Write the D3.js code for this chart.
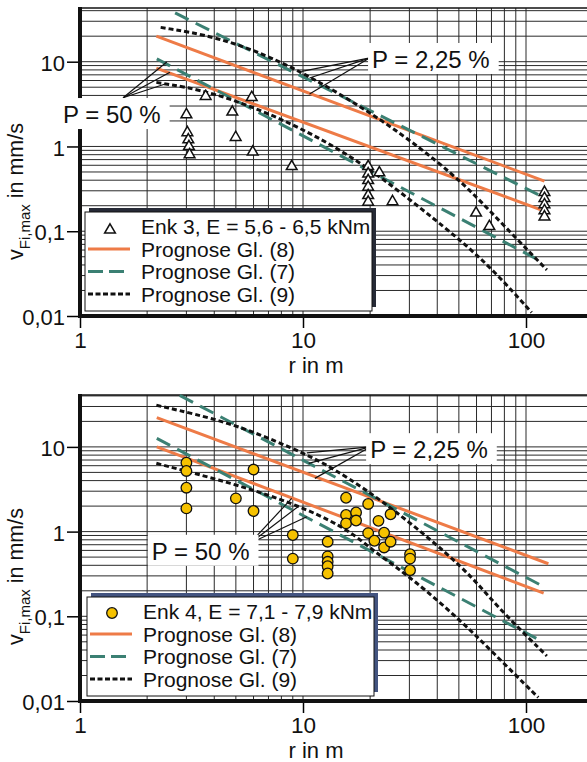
<!DOCTYPE html>
<html>
<head>
<meta charset="utf-8">
<script src="https://cdn.jsdelivr.net/npm/d3@7"></script>
<style>
body { margin: 0; background: #fff; }
svg { display: block; font-family: "Liberation Sans", Arial, sans-serif; }
</style>
</head>
<body>
<svg id="chart" width="587" height="762"></svg>
<script>
// axis ticks
const xTickValues = [1, 10, 100];
const xTickLabels = ["1", "10", "100"];
const yTickValues = [0.01, 0.1, 1, 10];
const yTickLabels = ["0,01", "0,1", "1", "10"];

// Enk 3 measurements (r in m, v in mm/s)
const enk3R = [3, 3.03, 3.06, 3.08, 3.1, 3.66, 4.82, 4.99, 5.89, 5.95, 8.9,
               19.6, 19.6, 19.6, 19.6, 19.6, 19.6, 22, 25.2, 59.7, 68.5,
               121, 121, 121, 121, 121];
const enk3V = [2.37, 1.46, 1.2, 1.0, 0.8, 3.9, 2.55, 1.28, 3.79, 0.86, 0.58,
               0.58, 0.476, 0.397, 0.332, 0.264, 0.221, 0.49, 0.224, 0.164, 0.114,
               0.288, 0.244, 0.206, 0.175, 0.148];

// Enk 4 measurements
const enk4R = [3, 3, 3, 3, 5, 6, 6, 9, 9,
               12.9, 12.9, 12.9, 12.9, 12.9, 15.6, 15.6, 15.6, 17.3, 17.3,
               19.6, 19.6, 20.9, 21.8, 23.1, 23.1, 24.7, 24.7, 30.2, 30.2, 30.2];
const enk4V = [6.5, 5.2, 3.3, 1.88, 2.47, 5.4, 1.75, 0.91, 0.48,
               0.76, 0.51, 0.44, 0.39, 0.32, 2.51, 1.57, 1.25, 1.68, 1.35,
               2.12, 0.96, 0.78, 1.34, 0.97, 0.65, 0.76, 1.6, 0.54, 0.48, 0.35];

// Prognose curves [r, v], upper (P = 2,25 %) and lower (P = 50 %)
const gl8Top = [[[2.2, 20], [121, 0.39]], [[2.2, 8.4], [116, 0.18]]];
const gl7Top = [[[2.67, 37.6], [113.5, 0.27]], [[2.21, 10.8], [113.5, 0.046]]];
const gl9Top = [
  [[2.3, 25.4], [4.1, 19.9], [8.5, 9.8], [23.7, 1.97], [48.9, 0.44], [66.6, 0.19], [124, 0.035]],
  [[2.2, 5.7], [3.96, 4.46], [9.05, 1.89], [18.6, 0.64], [35.9, 0.164], [50.6, 0.079], [71.3, 0.035], [106, 0.011]]
];
const gl8Bottom = [[[2.21, 22.2], [126, 0.417]], [[2.21, 10], [120, 0.188]]];
const gl7Bottom = [[[2.8, 40.6], [115.5, 0.236]], [[2.21, 12.6], [115.5, 0.052]]];
const gl9Bottom = [
  [[2.2, 31], [4.7, 19.7], [9.05, 9.6], [13.7, 5.7], [25.4, 1.88], [54.2, 0.355], [71.3, 0.144], [124, 0.034]],
  [[2.2, 6.4], [4.87, 3.7], [9.05, 2.16], [15.2, 1.15], [19.6, 0.67], [22.9, 0.49], [31.3, 0.27], [50.6, 0.091], [71.3, 0.037], [113.5, 0.011]]
];

const legendTop = ["Enk 3, E = 5,6 - 6,5 kNm", "Prognose Gl. (8)", "Prognose Gl. (7)", "Prognose Gl. (9)"];
const legendBottom = ["Enk 4, E = 7,1 - 7,9 kNm", "Prognose Gl. (8)", "Prognose Gl. (7)", "Prognose Gl. (9)"];

// P labels with leader lines, in data units
const notesTop = [
  {text: "P = 50 %", textAt: [0.839, 1.89], from: [1.56, 3.76], to: [[2.45, 9.9], [2.53, 7.5], [2.41, 5.45]]},
  {text: "P = 2,25 %", textAt: [20.4, 8.43], from: [19.97, 11.1], to: [[9.87, 7.68], [10.7, 6.42], [10.7, 4.16]]}
];
const notesBottom = [
  {text: "P = 50 %", textAt: [2.1, 0.465], from: [5.79, 0.73], to: [[8.9, 2.47], [9.5, 1.97], [10.4, 1.5]]},
  {text: "P = 2,25 %", textAt: [20, 7.36], from: [20, 10], to: [[10.4, 8.5], [10.6, 6.4], [11.3, 4.25]]}
];

const ORANGE = "#ee7b47";
const GREEN = "#3b8073";
const W = 587;
const LEFT = 80;

const svg = d3.select("#chart");
const x = d3.scaleLog().domain([1, 100]).range([LEFT, 526]);

function drawPanel(p) {
  let g = svg.append("g");
  let y = d3.scaleLog().domain([0.01, p.yMax]).range([p.bottom, p.top]);

  // grid
  let vGrid = [];
  for (let k = 0; k < 2; k++) for (let m = 1; m <= 9; m++) vGrid.push(m * Math.pow(10, k));
  vGrid.push(100);
  let hGrid = [];
  for (let k = -2; k <= 1; k++) for (let m = 1; m <= 9; m++) {
    let v = m * Math.pow(10, k);
    if (v < p.yMax) hGrid.push(v);
  }
  g.selectAll(".vg").data(vGrid.slice(1)).join("line")
    .attr("x1", d => x(d)).attr("x2", d => x(d))
    .attr("y1", p.top).attr("y2", p.bottom)
    .attr("stroke", "#2a2a2a").attr("stroke-width", 1);
  g.selectAll(".hg").data(hGrid).join("line")
    .attr("x1", LEFT).attr("x2", W)
    .attr("y1", d => y(d)).attr("y2", d => y(d))
    .attr("stroke", "#2a2a2a").attr("stroke-width", 1);
  g.append("line").attr("x1", LEFT).attr("x2", W).attr("y1", p.top).attr("y2", p.top)
    .attr("stroke", "#111").attr("stroke-width", 1.6);

  // curves
  let line = d3.line().x(d => x(d[0])).y(d => y(d[1])).curve(d3.curveBasis);
  g.selectAll(".c8").data(p.gl8).join("path").attr("d", line)
    .attr("fill", "none").attr("stroke", ORANGE).attr("stroke-width", 3);
  g.selectAll(".c7").data(p.gl7).join("path").attr("d", line)
    .attr("fill", "none").attr("stroke", GREEN).attr("stroke-width", 3).attr("stroke-dasharray", "15,8");
  g.selectAll(".c9").data(p.gl9).join("path").attr("d", line)
    .attr("fill", "none").attr("stroke", "#111").attr("stroke-width", 3).attr("stroke-dasharray", "5,3");

  // measurements
  let pts = p.r.map((r, i) => [r, p.v[i]]);
  if (p.marker === "triangle") {
    g.selectAll(".m").data(pts).join("path")
      .attr("transform", d => "translate(" + x(d[0]) + "," + y(d[1]) + ")")
      .attr("d", d3.symbol(d3.symbolTriangle, 50))
      .attr("fill", "#fff").attr("stroke", "#111").attr("stroke-width", 1.5);
  } else {
    g.selectAll(".m").data(pts).join("circle")
      .attr("cx", d => x(d[0])).attr("cy", d => y(d[1])).attr("r", 5.3)
      .attr("fill", "#f6c200").attr("stroke", "#111").attr("stroke-width", 1.3);
  }

  // axes
  let ya = g.append("g").attr("transform", "translate(" + LEFT + ",0)")
    .call(d3.axisLeft(y).tickValues(yTickValues).tickFormat((d, i) => yTickLabels[i]).tickSize(13).tickPadding(2));
  ya.select(".domain").remove();
  ya.selectAll("text").attr("font-size", 22).attr("font-family", "Liberation Sans").attr("dy", "0.39em").attr("fill", "#111");
  ya.selectAll("line").attr("stroke-width", 1.5);
  let xa = g.append("g").attr("transform", "translate(0," + p.bottom + ")")
    .call(d3.axisBottom(x).tickValues(xTickValues).tickFormat((d, i) => xTickLabels[i]).tickSize(12).tickPadding(4));
  xa.select(".domain").remove();
  xa.selectAll("text").attr("font-size", 22.5).attr("font-family", "Liberation Sans").attr("dy", "0.71em").attr("y", 16).attr("fill", "#111");
  xa.selectAll("line").attr("stroke-width", 1.5);
  g.append("line").attr("x1", LEFT).attr("x2", LEFT).attr("y1", p.top - 1).attr("y2", p.bottom + 2)
    .attr("stroke", "#111").attr("stroke-width", 4);
  g.append("line").attr("x1", LEFT - 2).attr("x2", W).attr("y1", p.bottom).attr("y2", p.bottom)
    .attr("stroke", "#111").attr("stroke-width", 4);

  // axis titles
  g.append("text").attr("x", 316).attr("y", p.bottom + 57).attr("text-anchor", "middle")
    .attr("font-size", 22).attr("fill", "#111").text("r in m");
  let yt = g.append("text").attr("transform", "translate(23," + (p.bottom - 56) + ") rotate(-90)")
    .attr("font-size", 21.5).attr("fill", "#111");
  yt.append("tspan").text("v");
  yt.append("tspan").attr("font-size", 15).attr("dy", 7).text("Fi,max");
  yt.append("tspan").attr("dy", -7).text(" in mm/s");

  // P labels
  for (let n of p.notes) {
    let a = g.append("g");
    a.selectAll("line").data(n.to).join("line")
      .attr("x1", x(n.from[0])).attr("y1", y(n.from[1]))
      .attr("x2", d => x(d[0])).attr("y2", d => y(d[1]))
      .attr("stroke", "#111").attr("stroke-width", 1.2);
    let box = a.append("rect").attr("fill", "#fff");
    let t = a.append("text").attr("x", x(n.textAt[0])).attr("y", y(n.textAt[1]))
      .attr("font-size", 24).attr("fill", "#111").text(n.text);
    let bb = t.node().getBBox();
    box.attr("x", bb.x - 4).attr("y", bb.y - 3).attr("width", bb.width + 13).attr("height", bb.height + 4);
  }

  // legend
  let lg = g.append("g").attr("transform", "translate(" + p.legend.x + "," + p.legend.y + ")");
  lg.append("rect").attr("x", 4).attr("y", -4).attr("width", 287).attr("height", 99).attr("fill", p.legend.shadow);
  lg.append("rect").attr("x", 0).attr("y", 0).attr("width", 287).attr("height", 99)
    .attr("fill", "#fff").attr("stroke", "#111").attr("stroke-width", 1);
  let rows = lg.selectAll(".row").data(p.legendLabels).join("g")
    .attr("transform", (d, i) => "translate(0," + (22 + i * 22.5) + ")");
  rows.append("text").attr("x", 56).attr("font-size", 21).attr("fill", "#111").text(d => d);
  if (p.marker === "triangle") {
    lg.append("path").attr("transform", "translate(25,18)").attr("d", d3.symbol(d3.symbolTriangle, 50))
      .attr("fill", "#fff").attr("stroke", "#111").attr("stroke-width", 1.5);
  } else {
    lg.append("circle").attr("cx", 25).attr("cy", 16).attr("r", 5.3)
      .attr("fill", "#f6c200").attr("stroke", "#111").attr("stroke-width", 1.3);
  }
  let styles = [[ORANGE, null], [GREEN, "15,6"], ["#111", "5,2.5"]];
  styles.forEach((s, i) => {
    lg.append("line").attr("x1", 3).attr("x2", 45)
      .attr("y1", 37 + i * 22.5).attr("y2", 37 + i * 22.5)
      .attr("stroke", s[0]).attr("stroke-width", 3).attr("stroke-dasharray", s[1]);
  });
}

drawPanel({top: 8, bottom: 316, yMax: 43, r: enk3R, v: enk3V, marker: "triangle",
  gl8: gl8Top, gl7: gl7Top, gl9: gl9Top, notes: notesTop, legendLabels: legendTop,
  legend: {x: 85, y: 212, shadow: "#262a36"}});
drawPanel({top: 395, bottom: 701, yMax: 41, r: enk4R, v: enk4V, marker: "circle",
  gl8: gl8Bottom, gl7: gl7Bottom, gl9: gl9Bottom, notes: notesBottom, legendLabels: legendBottom,
  legend: {x: 87, y: 597, shadow: "#435480"}});
</script>
</body>
</html>
